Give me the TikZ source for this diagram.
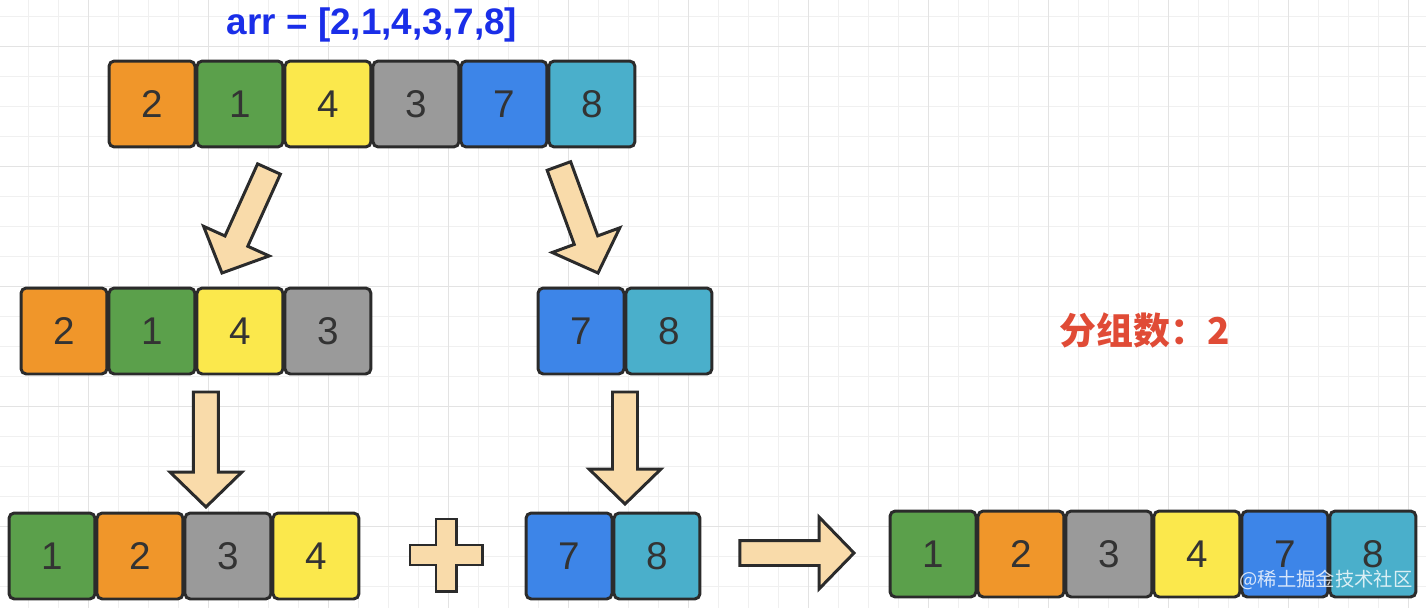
\documentclass[tikz,border=0pt]{standalone}
\usepackage{fontspec}
\setmainfont{Liberation Sans}
\newfontfamily\cjk{Noto Sans CJK SC}
\usetikzlibrary{positioning,calc}

\definecolor{orng}{HTML}{F0962A}
\definecolor{grn}{HTML}{5BA04B}
\definecolor{ylw}{HTML}{FBE84C}
\definecolor{gry}{HTML}{9A9A9A}
\definecolor{blu}{HTML}{3D85E8}
\definecolor{cyn}{HTML}{4AAFCB}
\definecolor{edge}{HTML}{2B2B2B}
\definecolor{digit}{HTML}{333333}
\definecolor{peach}{HTML}{F9DBAA}
\definecolor{titleblue}{HTML}{1A2EE8}
\definecolor{notered}{HTML}{E04B36}
\definecolor{gridminor}{HTML}{F0F0F0}
\definecolor{gridmajor}{HTML}{E3E3E3}

\tikzset{
  cell/.style={draw=edge,line width=1.7pt,rounded corners=3pt,
    minimum width=1.72cm,minimum height=1.72cm,inner sep=0pt,outer sep=0pt,
    text=digit,font=\fontsize{22}{22}\selectfont},
  fat/.style={draw=edge,fill=peach,line width=1.7pt},
  title/.style={text=titleblue,font=\bfseries\fontsize{21}{21}\selectfont},
  note/.style={text=notered,font=\cjk\bfseries\fontsize{21}{21}\selectfont},
  wmark/.style={text=white,opacity=0.8,font=\cjk\fontsize{11}{11}\selectfont},
}

% fat block arrow from #1 (tail) to #2 (tip)
\newcommand\fatarrow[2]{%
  \coordinate (fhb) at ($(#2)!0.7cm!(#1)$);
  \draw[fat] ($(#1)!0.25cm!90:(#2)$) -- ($(fhb)!0.25cm!90:(#2)$)
    -- ($(fhb)!0.72cm!90:(#2)$) -- (#2) -- ($(fhb)!0.72cm!-90:(#2)$)
    -- ($(fhb)!0.25cm!-90:(#2)$) -- ($(#1)!0.25cm!-90:(#2)$) -- cycle;}

\begin{document}
\begin{tikzpicture}[x=0.02cm,y=-0.02cm]
\useasboundingbox (0,0) rectangle (1426,608);

% Grid paper
\foreach \gx in {28.3,58.3,...,1426} \draw[gridminor,line width=0.6pt] (\gx,0) -- (\gx,608);
\foreach \gy in {16.7,46.7,...,608} \draw[gridminor,line width=0.6pt] (0,\gy) -- (1426,\gy);
\foreach \gx in {88.3,208.3,...,1426} \draw[gridmajor,line width=0.8pt] (\gx,0) -- (\gx,608);
\foreach \gy in {46.7,166.7,...,608} \draw[gridmajor,line width=0.8pt] (0,\gy) -- (1426,\gy);

% Input array
\node[title] (arr) at (372,25) {arr = [2,1,4,3,7,8]};
\node[cell,fill=orng] (top1) at (152,104) {2};
\node[cell,fill=grn,right=0.04cm of top1] (top2) {1};
\node[cell,fill=ylw,right=0.04cm of top2] (top3) {4};
\node[cell,fill=gry,right=0.04cm of top3] (top4) {3};
\node[cell,fill=blu,right=0.04cm of top4] (top5) {7};
\node[cell,fill=cyn,right=0.04cm of top5] (top6) {8};

% Groups
\node[cell,fill=orng] (lft1) at (64,331) {2};
\node[cell,fill=grn,right=0.04cm of lft1] (lft2) {1};
\node[cell,fill=ylw,right=0.04cm of lft2] (lft3) {4};
\node[cell,fill=gry,right=0.04cm of lft3] (lft4) {3};
\node[cell,fill=blu] (rgt1) at (581,331) {7};
\node[cell,fill=cyn,right=0.04cm of rgt1] (rgt2) {8};

\node[note] (cnt) at (1145,330) {分组数：2};

% Sorted groups
\node[cell,fill=grn] (srtl1) at (52,556) {1};
\node[cell,fill=orng,right=0.04cm of srtl1] (srtl2) {2};
\node[cell,fill=gry,right=0.04cm of srtl2] (srtl3) {3};
\node[cell,fill=ylw,right=0.04cm of srtl3] (srtl4) {4};
\node[cell,fill=blu] (srtr1) at (569,556) {7};
\node[cell,fill=cyn,right=0.04cm of srtr1] (srtr2) {8};

% Result
\node[cell,fill=grn] (res1) at (933,554) {1};
\node[cell,fill=orng,right=0.04cm of res1] (res2) {2};
\node[cell,fill=gry,right=0.04cm of res2] (res3) {3};
\node[cell,fill=ylw,right=0.04cm of res3] (res4) {4};
\node[cell,fill=blu,right=0.04cm of res4] (res5) {7};
\node[cell,fill=cyn,right=0.04cm of res5] (res6) {8};

\node[wmark] (wm) at (1326,580) {@稀土掘金技术社区};

% Block arrows
\coordinate (dl0) at ($(top2.south)+(29,22)$);
\coordinate (dl1) at ($(lft3.north)+(-18,-15)$);
\coordinate (dr0) at ($(top6.south)+(-33,19)$);
\coordinate (dr1) at ($(rgt1.north)+(17,-15)$);
\coordinate (vl0) at ($(lft3.south)+(-34,18)$);
\coordinate (vl1) at ($(vl0 |- srtl3.north)+(0,-6)$);
\coordinate (vr0) at ($(rgt1.south east)+(1,18)$);
\coordinate (vr1) at ($(vr0 |- srtr2.north)+(0,-9)$);
\coordinate (h0) at ($(srtr2.east)+(40,-3)$);
\coordinate (h1) at ($(h0 -| res1.west)+(-36,0)$);

\fatarrow{dl0}{dl1}
\fatarrow{dr0}{dr1}
\fatarrow{vl0}{vl1}
\fatarrow{vr0}{vr1}
\fatarrow{h0}{h1}

% Plus sign
\coordinate (plus) at (446,555);
\draw[fat,shift={(plus)}] (-10,-36) -- (10,-36) -- (10,-10) -- (36,-10)
  -- (36,10) -- (10,10) -- (10,36) -- (-10,36) -- (-10,10)
  -- (-36,10) -- (-36,-10) -- (-10,-10) -- cycle;

\end{tikzpicture}
\end{document}
